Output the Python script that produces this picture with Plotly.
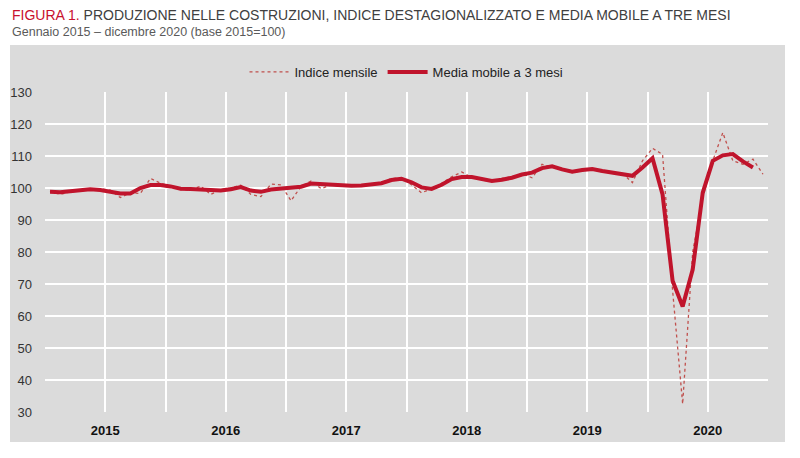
import plotly.graph_objects as go

years = ["2015", "2016", "2017", "2018", "2019", "2020"]
months = list(range(72))  # Jan 2015 .. Dec 2020

indice_mensile = [
    # 2015
    99.0, 98.0, 98.8, 99.3, 99.6, 99.8, 99.3, 97.0, 98.5, 98.3, 103.0, 101.5,
    # 2016
    100.5, 99.5, 99.3, 100.6, 98.0, 99.5, 100.0, 100.9, 98.0, 97.3, 101.2, 101.0,
    # 2017
    96.0, 100.5, 102.2, 99.8, 101.0, 100.5, 100.8, 100.6, 101.2, 101.5, 103.0, 103.2,
    # 2018
    101.0, 98.5, 99.8, 101.5, 103.5, 105.0, 103.3, 102.5, 102.0, 103.0, 103.5, 104.5,
    # 2019
    103.2, 107.4, 106.5, 106.0, 104.8, 105.5, 106.0, 105.0, 104.7, 104.6, 101.7, 108.5,
    # 2020
    112.4, 110.5, 68.0, 32.5, 80.0, 97.0, 108.5, 117.3, 108.5, 107.4, 109.0, 104.3,
]

media_mobile = [
    # 2015
    98.8, 98.7, 99.0, 99.4, 99.6, 99.4, 98.9, 98.3, 98.3, 100.0, 100.9, 100.9,
    # 2016
    100.5, 99.8, 99.7, 99.6, 99.4, 99.2, 99.6, 100.3, 99.2, 98.8, 99.5, 99.7,
    # 2017
    99.9, 100.4, 101.4, 101.2, 100.8, 100.6, 100.7, 100.8, 101.0, 101.5, 102.5, 102.9,
    # 2018
    101.8, 100.2, 99.7, 101.0, 102.8, 103.4, 103.4, 102.8, 102.2, 102.6, 103.2, 104.2,
    # 2019
    104.8, 106.2, 106.8, 105.8, 105.1, 105.6, 105.9, 105.3, 104.9, 104.5, 103.8, 106.4,
    # 2020 (to November)
    109.3, 98.0, 71.0, 63.0, 74.5, 98.5, 108.5, 110.2, 110.6, 108.3, 106.4,
]

title_main = "PRODUZIONE NELLE COSTRUZIONI, INDICE DESTAGIONALIZZATO E MEDIA MOBILE A TRE MESI"
subtitle = "Gennaio 2015 – dicembre 2020 (base 2015=100)"

FONT = "Liberation Sans Narrow, Arial Narrow, Liberation Sans, Arial, sans-serif"
PANEL = "#dbdbdb"

fig = go.Figure()

fig.add_trace(go.Scatter(
    x=months, y=indice_mensile, mode="lines", name="Indice mensile",
    line=dict(color="#c0504d", width=1.3, dash="dot"),
))
fig.add_trace(go.Scatter(
    x=months[:len(media_mobile)], y=media_mobile, mode="lines",
    name="Media mobile a 3 mesi",
    line=dict(color="#c0142c", width=4),
))

year_centers = [12 * i + 5.5 for i in range(len(years))]
year_bounds = [12 * i - 0.5 for i in range(len(years) + 1)]

fig.update_xaxes(
    range=[-0.5, 71.5],
    tickvals=year_centers, ticktext=years,
    tickfont=dict(family=FONT, size=13, color="#111111", weight="bold"),
    ticks="", ticklabelstandoff=9,
    showgrid=True, gridcolor="white", gridwidth=1.5,
    minor=dict(tickvals=year_bounds, showgrid=True, gridcolor="white", gridwidth=1.5, ticks=""),
    zeroline=False, showline=False,
)
fig.update_yaxes(
    range=[30, 130], dtick=10, tick0=30,
    tickfont=dict(family=FONT, size=13, color="#333333"),
    ticks="", ticklabelstandoff=12,
    showgrid=True, gridcolor="white", gridwidth=1.5,
    zeroline=False, showline=False,
)

# grey panel behind the chart
fig.add_shape(type="rect", xref="paper", yref="paper",
              x0=-0.0484, x1=1.0235, y0=-0.094, y1=1.147,
              fillcolor=PANEL, line=dict(width=0), layer="below")
# base line at 100
fig.add_shape(type="line", xref="paper", yref="y", x0=0, x1=1, y0=100, y1=100,
              line=dict(color="black", width=1.5), layer="between")

fig.add_annotation(
    xref="paper", yref="paper", x=-0.0484, y=(412 - 5) / 320, xanchor="left", yanchor="top",
    text="<span style='color:#c8102e'>FIGURA 1.</span> " + title_main,
    showarrow=False, font=dict(family=FONT, size=14, color="#404040"),
)
fig.add_annotation(
    xref="paper", yref="paper", x=-0.0484, y=(412 - 23) / 320, xanchor="left", yanchor="top",
    text=subtitle, showarrow=False,
    font=dict(family=FONT, size=12.5, color="#5a5a5a"),
)

# the page body adds an 8px offset, so margins are shifted accordingly
fig.update_layout(
    width=800, height=458,
    margin=dict(l=37, r=40, t=84, b=54, autoexpand=False),
    paper_bgcolor="white", plot_bgcolor=PANEL,
    font=dict(family=FONT, size=13, color="#333333"),
    showlegend=True,
    legend=dict(orientation="h", x=0.5, xanchor="center", y=(412 - 72) / 320, yanchor="middle",
                bgcolor="rgba(0,0,0,0)", font=dict(family=FONT, size=13, color="#222222"),
                itemwidth=40, tracegroupgap=0),
)

fig.write_html("out.html")
